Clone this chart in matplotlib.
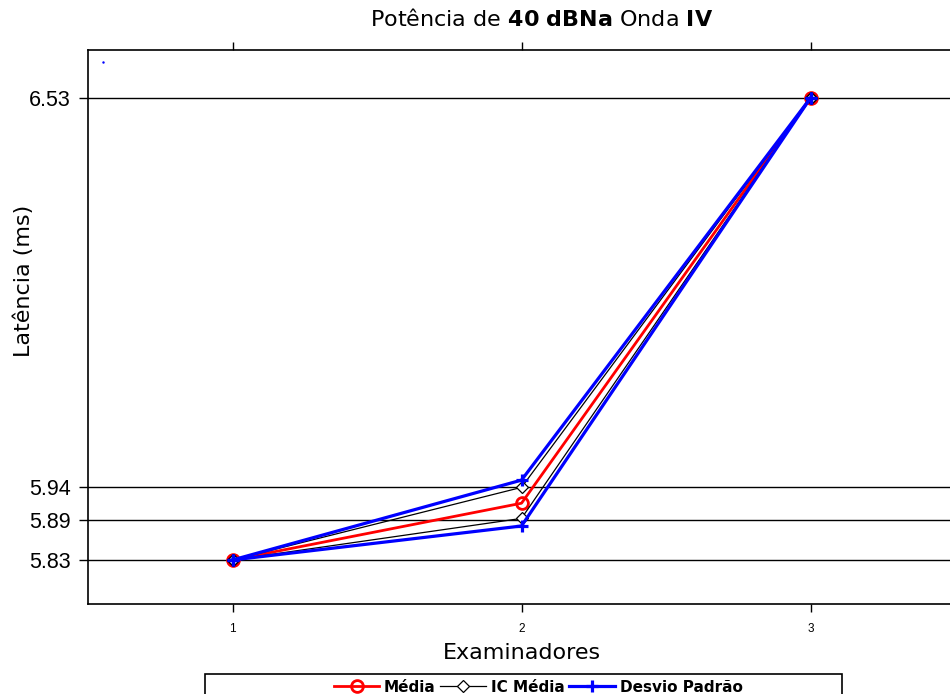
import numpy as np
import matplotlib
matplotlib.use("Agg")
import matplotlib.pyplot as plt
from matplotlib.patches import Rectangle

# dados por examinador
examinadores = [1, 2, 3]
media = [5.83, 5.916, 6.53]
ic_sup = [5.83, 5.94, 6.53]
ic_inf = [5.83, 5.893, 6.53]
dp_sup = [5.83, 5.951, 6.53]
dp_inf = [5.83, 5.8815, 6.53]
yticks = [5.83, 5.89, 5.94, 6.53]
ponto_extra = (0.552, 6.5845)

plt.rcParams["mathtext.fontset"] = "dejavusans"

fig = plt.figure(figsize=(9.5, 6.94), dpi=100)
ax = fig.add_axes([88 / 950, 1 - 604 / 694, 867 / 950, 554 / 694])

# linhas de referência nas marcas do eixo y
for yv in yticks:
    ax.axhline(yv, color="black", lw=1.0, zorder=1)

ax.plot(examinadores, media, color="red", lw=2, marker="o", ms=8.5,
        mfc="none", mew=2, label="Média", zorder=3)
ax.plot(examinadores, ic_sup, color="black", lw=0.9, marker="D", ms=6,
        mfc="white", mew=0.9, label="IC Média", zorder=3)
ax.plot(examinadores, ic_inf, color="black", lw=0.9, marker="D", ms=6,
        mfc="white", mew=0.9, zorder=3)
ax.plot(examinadores, dp_sup, color="blue", lw=2.3, marker="+", ms=9,
        mew=2.3, label="Desvio Padrão", zorder=4)
ax.plot(examinadores, dp_inf, color="blue", lw=2.3, marker="+", ms=9,
        mew=2.3, zorder=4)
ax.plot([ponto_extra[0]], [ponto_extra[1]], ".", color="blue", ms=1.5)

ax.set_xlim(0.5, 3.5)
ax.set_ylim(5.7633, 6.6027)
ax.set_xticks(examinadores)
ax.set_yticks(yticks)
ax.set_yticklabels([f"{v:.2f}" for v in yticks], fontsize=15.5,
                   fontfamily="Liberation Sans")
ax.set_xticklabels([str(v) for v in examinadores], fontsize=8.5,
                   fontfamily="Liberation Sans")
ax.tick_params(axis="x", direction="out", length=6, width=1, top=True,
               pad=8)
ax.tick_params(axis="y", direction="out", length=6.5, width=1, pad=6)
for s in ax.spines.values():
    s.set_linewidth(1.2)

ax.set_xlabel("Examinadores", fontsize=16, fontfamily="DejaVu Sans")
ax.xaxis.set_label_coords(0.5, -0.071)
ax.set_ylabel("Latência (ms)", fontsize=16, fontfamily="DejaVu Sans")
ax.yaxis.set_label_coords(-0.062, 0.583)
ax.set_title(r"Potência de $\mathbf{40\ dBNa}$ Onda $\mathbf{IV}$",
             fontsize=16, fontfamily="DejaVu Sans", pad=17, x=0.523)

# caixa da legenda
fig.patches.append(Rectangle((205 / 950, -0.05), 637 / 950, 0.05 + 20 / 694,
                             transform=fig.transFigure, fill=False,
                             edgecolor="black", lw=1.2))
handles, labels = ax.get_legend_handles_labels()
fig.legend(handles, labels, loc="center", bbox_to_anchor=(538 / 950, 1 - 687 / 694),
           ncol=3, frameon=False, handlelength=3.0, handletextpad=0.3,
           columnspacing=0.3,
           prop={"family": "DejaVu Sans", "weight": "bold", "size": 11})

fig.savefig("out.png", dpi=100)
